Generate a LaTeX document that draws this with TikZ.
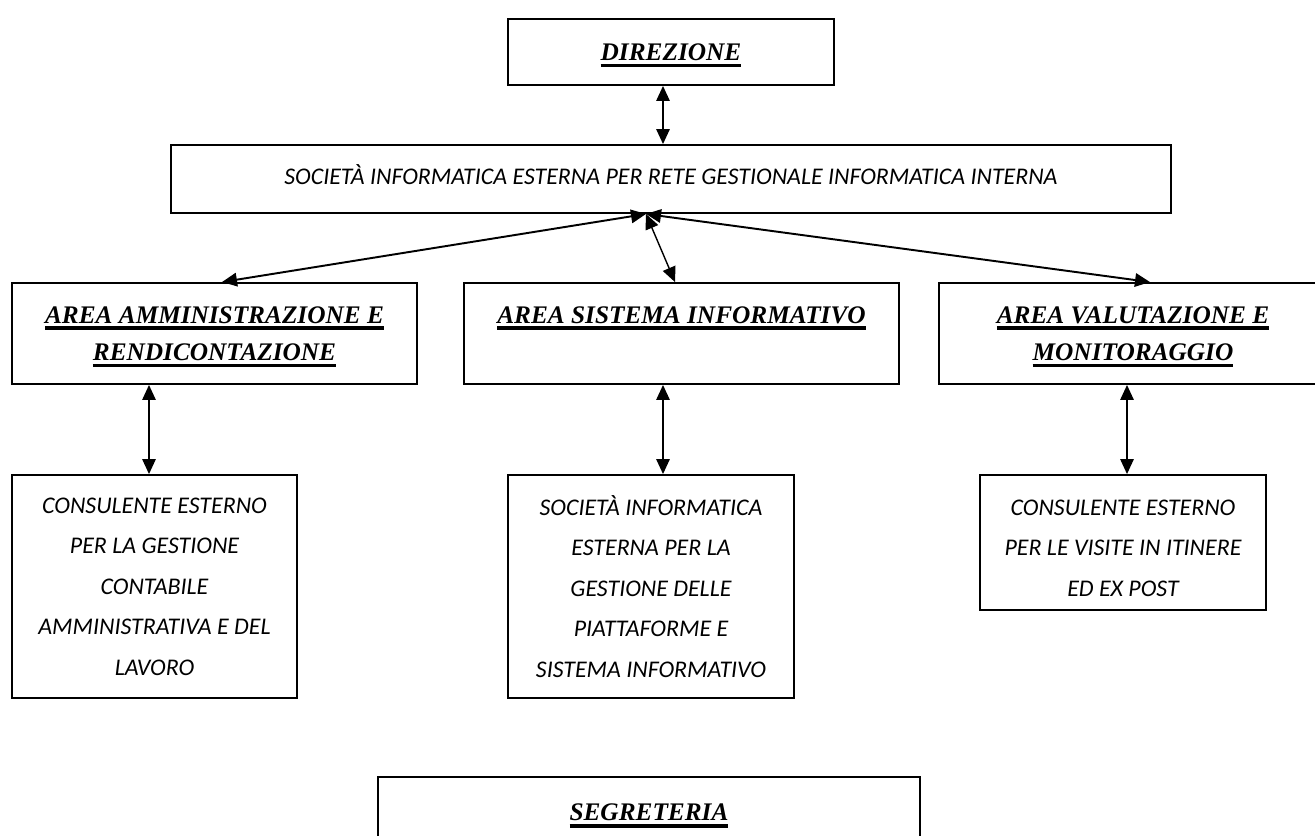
\documentclass[tikz,border=0pt]{standalone}
\usepackage{fontspec}
\setmainfont{Liberation Serif}
\newfontfamily\carlito{Carlito}
\usepackage{tikz}
\usetikzlibrary{arrows.meta}
\newsavebox\ulbox
\newcommand{\ulh}[1]{\rule{0pt}{13.3pt}\sbox\ulbox{#1}\rlap{\rule[-3.8pt]{\wd\ulbox}{1.9pt}}\usebox\ulbox}
\newcommand{\vpad}[2]{\rule[-#1]{0pt}{\dimexpr#1+#2\relax}}

\begin{document}
\begin{tikzpicture}[
  area/.style={draw, line width=1.1pt, align=center, inner sep=0pt, font=\fontsize{14.4}{21.4}\selectfont\bfseries\itshape},
  ext/.style={draw, line width=1.1pt, align=center, inner sep=0pt, font=\fontsize{13.6}{23}\selectfont\carlito\itshape},
  link/.style={<->, >={Triangle[length=3mm,width=2.7mm]}, line width=0.8pt}]
\useasboundingbox (0,0) rectangle (26.3,-16.7);
\node [area, minimum width=6.52cm, minimum height=1.32cm] (dir) at (13.42,-1.04) {\ulh{DIREZIONE}};
\node [ext, minimum width=20cm, minimum height=1.36cm] (soc) at (13.42,-3.58) {SOCIETÀ INFORMATICA ESTERNA PER RETE GESTIONALE INFORMATICA INTERNA\vpad{5.6pt}{0pt}};
\node [area, minimum width=8.1cm, minimum height=2.02cm] (aam) at (4.29,-6.67) {\ulh{AREA AMMINISTRAZIONE E}\\\ulh{RENDICONTAZIONE}};
\node [area, minimum width=8.7cm, minimum height=2.02cm] (asi) at (13.63,-6.67) {\ulh{AREA SISTEMA INFORMATIVO}\\\vpad{3.8pt}{0pt}};
\node [area, minimum width=7.76cm, minimum height=2.02cm] (avm) at (22.66,-6.67) {\ulh{AREA VALUTAZIONE E}\\\ulh{MONITORAGGIO}};
\node [ext, minimum width=5.7cm, minimum height=4.46cm] (cons1) at (3.09,-11.73) {CONSULENTE ESTERNO\\PER LA GESTIONE\\CONTABILE\\AMMINISTRATIVA E DEL\\LAVORO};
\node [ext, minimum width=5.72cm, minimum height=4.46cm] (cons2) at (13.02,-11.73) {SOCIETÀ INFORMATICA\\ESTERNA PER LA\\GESTIONE DELLE\\PIATTAFORME E\\SISTEMA INFORMATIVO};
\node [ext, minimum width=5.72cm, minimum height=2.7cm] (cons3) at (22.46,-10.85) {\vpad{0pt}{15.1pt}CONSULENTE ESTERNO\\PER LE VISITE IN ITINERE\\ED EX POST};
\node [area, minimum width=10.84cm, minimum height=1.42cm, anchor=north] (seg) at (12.98,-15.52) {\ulh{SEGRETERIA}};
\coordinate (hub) at ([xshift=-0.5cm]soc.south);
\draw [link] ([xshift=-0.16cm]dir.south) -- ([xshift=-0.16cm]dir.south |- soc.north);
\draw [link, line width=1.1pt] (hub) -- ([xshift=0.15cm]aam.north);
\draw [link] (hub) -- ([xshift=-0.13cm]asi.north);
\draw [link, line width=1.1pt] (hub) -- ([xshift=0.34cm]avm.north);
\draw [link] ([xshift=-0.11cm]cons1.north |- aam.south) -- ([xshift=-0.11cm]cons1.north);
\draw [link] ([xshift=0.24cm]cons2.north |- asi.south) -- ([xshift=0.24cm]cons2.north);
\draw [link] ([xshift=0.08cm]cons3.north |- avm.south) -- ([xshift=0.08cm]cons3.north);
\end{tikzpicture}
\end{document}
